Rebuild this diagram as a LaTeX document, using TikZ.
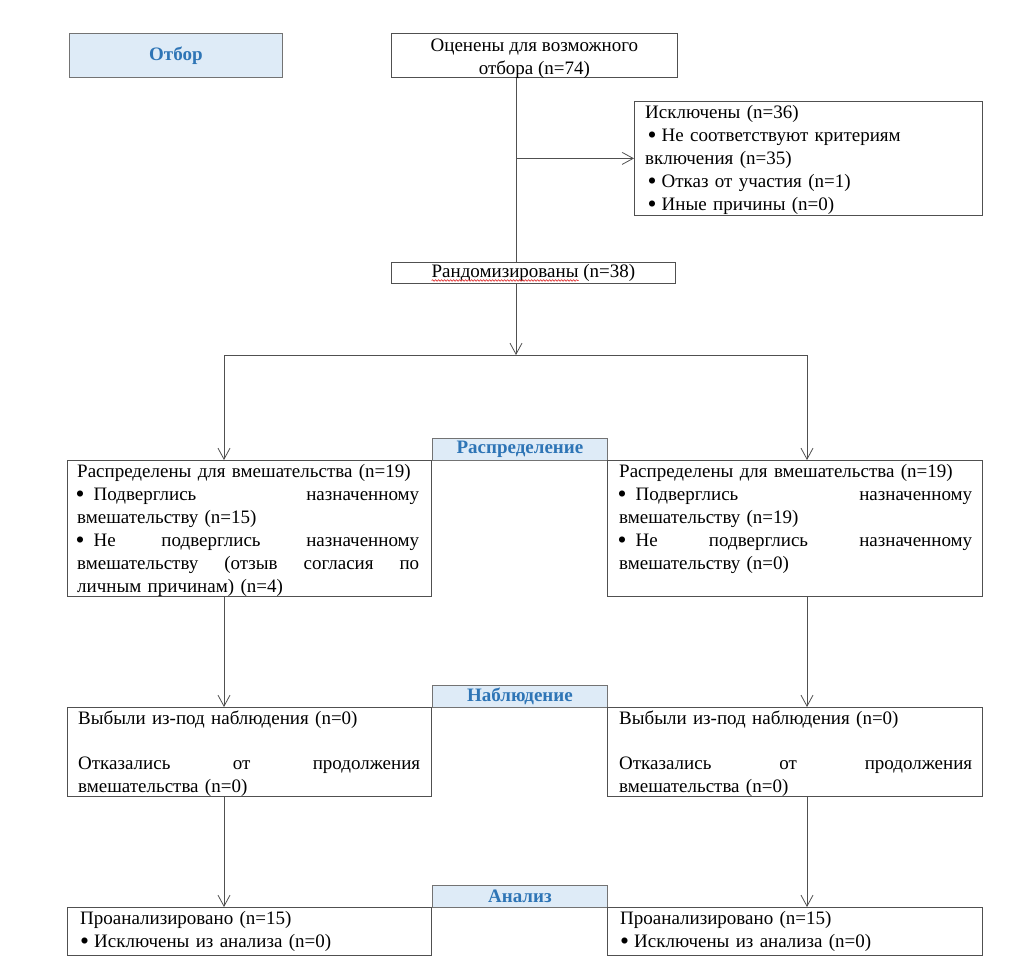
\documentclass[tikz,border=0pt]{standalone}
\usepackage{fontspec}
\setmainfont{Liberation Serif}
\usetikzlibrary{arrows.meta,decorations.pathmorphing,calc}
\definecolor{lblfill}{HTML}{DEEBF7}
\definecolor{lbltext}{HTML}{2E75B6}
\definecolor{lineg}{HTML}{505050}
\definecolor{spell}{HTML}{E03030}
\newlength\wordw
\newlength\linew
\newcommand\fsz{\fontsize{19bp}{23bp}\selectfont}
\newcommand\lfsz{\fontsize{19bp}{21bp}\selectfont}
% bullet: #1 = shift before, #2 = gap after
\newcommand\bul[2]{\hspace*{#1}\raisebox{-2bp}{\scalebox{1.35}{•}}\hspace*{#2}}
\newcommand\jl[2]{\leavevmode\hbox to #1{#2}}
\begin{document}
\settowidth{\linew}{\fsz Рандомизированы (n=38)}%
\settowidth{\wordw}{\fsz Рандомизированы}%
\begin{tikzpicture}[x=1bp,y=-1bp,
  box/.style={draw=lineg, line width=0.8bp, inner sep=0pt, anchor=north west},
  lbl/.style={draw=black!55, fill=lblfill, line width=0.8bp, inner sep=0pt, anchor=north west, font=\lfsz\bfseries, text=lbltext},
  txt/.style={anchor=north west, inner sep=0pt, align=left, font=\fsz},
  ln/.style={draw=lineg, line width=0.8bp},
  arr/.style={ln, -{Straight Barb[length=11bp,width=12bp]}}]
\useasboundingbox (0,0) rectangle (1024,976);
\fill[white] (0,0) rectangle (1024,976);
% column coordinates
\coordinate (xm) at (516,0);
\coordinate (xl) at (224,0);
\coordinate (xr) at (807,0);
\coordinate (split) at (516,355);
\coordinate (splitL) at (224,355);
\coordinate (splitR) at (807,355);
% selection
\node[lbl, minimum width=213bp, minimum height=44bp] (sel) at (69,33) {\raisebox{-2bp}{Отбор}};
\node[box, minimum width=286bp, minimum height=44bp] (T) at (391,33) {};
\node[inner sep=0pt, align=center, font=\fsz] (Tt) at ([yshift=-3bp]T.center) {Оценены для возможного\\отбора (n=74)};
\node[box, minimum width=348bp, minimum height=114bp] (E) at (634,101) {};
\node[txt, text width=330bp] (Et) at ([xshift=11bp,yshift=-4bp]E.north west) {Исключены (n=36)\\
\bul{2.5bp}{5bp}Не соответствуют критериям\\
включения (n=35)\\
\bul{2.5bp}{5bp}Отказ от участия (n=1)\\
\bul{2.5bp}{5bp}Иные причины (n=0)};
\node[box, minimum width=284bp, minimum height=21bp, font=\fsz] (R) at (391,262) {Рандомизированы (n=38)};
% allocation
\node[lbl, minimum width=175bp, minimum height=22bp] (alloc) at (432,438) {\raisebox{-2bp}{Распределение}};
\node[box, minimum width=364bp, minimum height=136bp] (L1) at (67,460) {};
\node[txt, text width=342bp] (L1t) at ([xshift=10bp,yshift=-4bp]L1.north west) {Распределены для вмешательства (n=19)\\
\jl{342bp}{\bul{-1.5bp}{9bp}Подверглись\hfill назначенному}\\
вмешательству (n=15)\\
\jl{342bp}{\bul{-1.5bp}{9bp}Не\hfill подверглись\hfill назначенному}\\
\jl{342bp}{вмешательству\hfill (отзыв\hfill согласия\hfill по}\\
личным причинам) (n=4)};
\node[box, minimum width=375bp, minimum height=136bp] (R1) at (607,460) {};
\node[txt, text width=353bp] (R1t) at ([xshift=12bp,yshift=-4bp]R1.north west) {Распределены для вмешательства (n=19)\\
\jl{353bp}{\bul{-1.5bp}{9bp}Подверглись\hfill назначенному}\\
вмешательству (n=19)\\
\jl{353bp}{\bul{-1.5bp}{9bp}Не\hfill подверглись\hfill назначенному}\\
вмешательству (n=0)};
% follow-up
\node[lbl, minimum width=175bp, minimum height=22bp] (follow) at (432,685) {\raisebox{-2bp}{Наблюдение}};
\node[box, minimum width=364bp, minimum height=89bp] (L2) at (67,707) {};
\node[txt, text width=342bp] (L2t) at ([xshift=11bp,yshift=-4bp]L2.north west) {Выбыли из-под наблюдения (n=0)\\[22bp]
\jl{342bp}{Отказались\hfill от\hfill продолжения}\\
вмешательства (n=0)};
\node[box, minimum width=375bp, minimum height=89bp] (R2) at (607,707) {};
\node[txt, text width=353bp] (R2t) at ([xshift=12bp,yshift=-4bp]R2.north west) {Выбыли из-под наблюдения (n=0)\\[22bp]
\jl{353bp}{Отказались\hfill от\hfill продолжения}\\
вмешательства (n=0)};
% analysis
\node[lbl, minimum width=175bp, minimum height=22bp] (anal) at (432,885) {\raisebox{-2bp}{Анализ}};
\node[box, minimum width=364bp, minimum height=48bp] (L3) at (67,907) {};
\node[txt, text width=342bp] (L3t) at ([xshift=13bp,yshift=-4bp]L3.north west) {Проанализировано (n=15)\\
\bul{0bp}{5bp}Исключены из анализа (n=0)};
\node[box, minimum width=375bp, minimum height=48bp] (R3) at (607,907) {};
\node[txt, text width=353bp] (R3t) at ([xshift=13bp,yshift=-4bp]R3.north west) {Проанализировано (n=15)\\
\bul{0bp}{5bp}Исключены из анализа (n=0)};
% spell-check underline
\draw[spell, line width=0.6bp, decorate, decoration={snake, amplitude=0.8bp, segment length=3bp}]
  ($(R.base)+(-0.5\linew,3)$) -- ++(\wordw,0);
% connectors
\draw[ln] (T.south -| xm) -- (R.north -| xm);
\draw[arr] (E.west -| xm) -- (E.west);
\draw[arr] (R.south -| xm) -- (split);
\draw[ln] (splitL) -- (splitR);
\draw[arr] (splitL) -- (L1.north -| xl);
\draw[arr] (splitR) -- (R1.north -| xr);
\draw[arr] (L1.south -| xl) -- (L2.north -| xl);
\draw[arr] (R1.south -| xr) -- (R2.north -| xr);
\draw[arr] (L2.south -| xl) -- (L3.north -| xl);
\draw[arr] (R2.south -| xr) -- (R3.north -| xr);
\end{tikzpicture}
\end{document}
